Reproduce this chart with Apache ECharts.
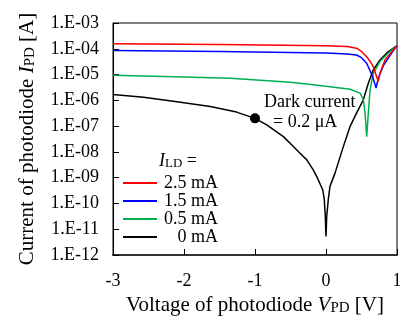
<!DOCTYPE html>
<html><head><meta charset="utf-8">
<script src="https://cdn.jsdelivr.net/npm/echarts@6/dist/echarts.min.js"></script>
<style>html,body{margin:0;padding:0;background:#fff}#c{width:400px;height:320px}</style>
</head><body><div id="c"></div>
<script>
// ---- data ----
const yTickLabels = ['1.E-12','1.E-11','1.E-10','1.E-09','1.E-08','1.E-07','1.E-06','1.E-05','1.E-04','1.E-03'];
const xTickLabels = ['-3','-2','-1','0','1'];
const seriesNames = ['2.5 mA','1.5 mA','0.5 mA','0 mA'];

const v25 = [-3, -1.5, 0, 0.3, 0.43, 0.5, 0.573, 0.62, 0.666, 0.736, 0.76, 0.83, 0.948, 1.0];
const i25 = [1.55e-4, 1.45e-4, 1.32e-4, 1.23e-4, 1.05e-4, 7.9e-5, 4.9e-5, 3.3e-5, 2.0e-5, 5.4e-6, 1.12e-5, 3.7e-5, 8.9e-5, 1.32e-4];

const v15 = [-3, -1.5, 0, 0.3, 0.43, 0.5, 0.573, 0.657, 0.705, 0.736, 0.81, 0.925, 1.0];
const i15 = [8.5e-5, 7.8e-5, 6.9e-5, 6.3e-5, 5.75e-5, 4.5e-5, 2.75e-5, 8.3e-6, 3.0e-6, 7.2e-6, 2.3e-5, 6.8e-5, 1.32e-4];

const v05 = [-3, -2, -1.35, -0.5, -0.18, 0.056, 0.338, 0.48, 0.526, 0.55, 0.573, 0.596, 0.62, 0.666, 0.76, 0.9, 1.0];
const i05 = [9.5e-6, 8.1e-6, 7.2e-6, 5.0e-6, 4.0e-6, 3.4e-6, 2.7e-6, 1.9e-6, 1.05e-6, 3.2e-7, 3.9e-8, 3.2e-7, 2.5e-6, 1.12e-5, 3.2e-5, 7.8e-5, 1.32e-4];

const v00 = [-3, -2.57, -2.1, -1.63, -1.26, -1, -0.835, -0.6, -0.46, -0.366, -0.27, -0.18, -0.13, -0.046, -0.024, -0.01, 0,
             0.01, 0.032, 0.056, 0.127, 0.244, 0.338, 0.43, 0.526, 0.596, 0.666, 0.76, 0.878, 1.0];
const i00 = [1.7e-6, 1.32e-6, 8.9e-7, 5.75e-7, 3.5e-7, 2.0e-7, 1.12e-7, 3.9e-8, 1.62e-8, 8.9e-9, 4.9e-9, 2.0e-9, 1.1e-9, 3.4e-10, 1.4e-10, 3.1e-11, 5.2e-12,
             3.2e-11, 1.4e-10, 4.6e-10, 1.5e-9, 1.6e-8, 9.5e-8, 3.2e-7, 1.05e-6, 4.6e-6, 1.5e-5, 3.7e-5, 7.8e-5, 1.32e-4];

const darkV = [-1];
const darkI = [2e-7];
// --------------------------------------

const FF = 'Liberation Serif';
const zip = (a, b) => a.map((x, k) => [x, b[k]]);
const colors = ['#ff0000', '#0000ff', '#00b050', '#000000'];
const vs = [v25, v15, v05, v00];
const is = [i25, i15, i05, i00];

const chart = echarts.init(document.getElementById('c'), null, {renderer: 'canvas'});
const lineSeries = seriesNames.map((n, k) => ({
  name: n, type: 'line', data: zip(vs[k], is[k]), showSymbol: false, symbol: 'none',
  lineStyle: {color: colors[k], width: 1.5}, itemStyle: {color: colors[k]},
  z: 2 + (3 - k), animation: false
}));

const option = {
  animation: false,
  backgroundColor: '#fff',
  title: {
    text: '{i|I}{s|LD}{t| =}', left: 159, top: 148, padding: 0,
    textStyle: {fontWeight: 'normal', rich: {
      i: {fontFamily: FF, fontSize: 18, fontStyle: 'italic', fontWeight: 'normal', color: '#000', lineHeight: 22, verticalAlign: 'bottom'},
      s: {fontFamily: FF, fontSize: 13, fontWeight: 'normal', color: '#000', lineHeight: 14, verticalAlign: 'bottom'},
      t: {fontFamily: FF, fontSize: 18, fontWeight: 'normal', color: '#000', lineHeight: 22, verticalAlign: 'bottom'}
    }}
  },
  legend: {
    data: seriesNames, orient: 'vertical', left: 123, top: 174, padding: 0,
    itemWidth: 34, itemHeight: 2, itemGap: 0, icon: 'rect',
    formatter: n => '{r|' + n + '}',
    textStyle: {fontFamily: FF, fontSize: 18, color: '#000', padding: [0, 0, 0, 0],
      rich: {r: {width: 56, align: 'right', fontFamily: FF, fontSize: 18, lineHeight: 17, color: '#000'}}}
  },
  grid: {left: 113, right: 3, top: 23, bottom: 65, show: true, borderColor: '#000', borderWidth: 1,
    containLabel: false, outerBoundsMode: 'none'},
  xAxis: {
    type: 'value', min: -3, max: 1, interval: 1,
    name: '{t|Voltage of photodiode }{i|V}{s|PD}{t| [V]}', nameLocation: 'middle', nameGap: 34,
    nameTextStyle: {rich: {
      t: {fontFamily: FF, fontSize: 21, color: '#000', lineHeight: 24, verticalAlign: 'bottom'},
      i: {fontFamily: FF, fontSize: 21, fontStyle: 'italic', color: '#000', lineHeight: 24, verticalAlign: 'bottom'},
      s: {fontFamily: FF, fontSize: 15, color: '#000', lineHeight: 14, verticalAlign: 'bottom'}
    }},
    axisLine: {onZero: false, lineStyle: {color: '#333', width: 2}},
    axisTick: {inside: true, length: 6, lineStyle: {color: '#000', width: 1}},
    axisLabel: {fontFamily: FF, fontSize: 18, color: '#000', margin: 17, showMinLabel: true, showMaxLabel: true,
      formatter: v => xTickLabels[Math.round(v) + 3]},
    splitLine: {show: false}
  },
  yAxis: {
    type: 'log', logBase: 10, min: 1e-12, max: 1e-3,
    name: '{t|Current of photodiode }{i|I}{s|PD}{t| [A]}', nameLocation: 'middle', nameGap: 75, nameRotate: 90,
    nameTextStyle: {rich: {
      t: {fontFamily: FF, fontSize: 21, color: '#000', lineHeight: 24, verticalAlign: 'bottom'},
      i: {fontFamily: FF, fontSize: 21, fontStyle: 'italic', color: '#000', lineHeight: 24, verticalAlign: 'bottom'},
      s: {fontFamily: FF, fontSize: 15, color: '#000', lineHeight: 14, verticalAlign: 'bottom'}
    }},
    axisLine: {show: true, onZero: false, lineStyle: {color: '#000', width: 1}},
    axisTick: {inside: true, length: 6, lineStyle: {color: '#000', width: 1}},
    minorTick: {show: false},
    axisLabel: {fontFamily: FF, fontSize: 18, color: '#000', margin: 14, showMinLabel: true, showMaxLabel: true,
      formatter: v => yTickLabels[Math.round(Math.log10(v)) + 12]},
    splitLine: {show: false}
  },
  series: lineSeries.concat([{
    name: 'dark', type: 'scatter', data: zip(darkV, darkI), symbolSize: 10, z: 10,
    itemStyle: {color: '#000', opacity: 1},
    label: {show: true, position: 'right', distance: 4, offset: [0, -6], color: '#000', opacity: 1,
      formatter: '{a|Dark current}\n{b|= 0.2 μA}',
      rich: {a: {fontFamily: FF, fontSize: 18, color: '#000', lineHeight: 20},
             b: {fontFamily: FF, fontSize: 18, color: '#000', lineHeight: 20, padding: [0, 0, 0, 9]}}},
    emphasis: {disabled: true}
  }])
};
chart.setOption(option);
</script></body></html>
